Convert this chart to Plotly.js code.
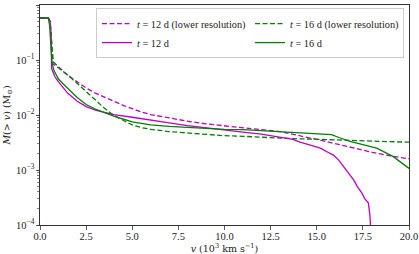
<!DOCTYPE html>
<html>
<head>
<meta charset="utf-8">
<script src="https://cdn.plot.ly/plotly-3.0.1.min.js"></script>
<style>html,body{margin:0;padding:0;background:#fff;}#chart{width:419px;height:254px;}</style>
</head>
<body>
<div id="chart"></div>
<script>
// t = 12 d (lower resolution)
const x12low = [0, 0.45, 0.55, 0.62, 0.7, 0.85, 1.0, 1.5, 2.0, 2.5, 3.0, 3.5, 4.0, 4.5, 5.0, 5.5, 6.0, 7.0, 8.0, 9.0, 10.0, 11.0, 12.0, 13.0, 14.0, 15.0, 15.5, 16.0, 17.0, 18.0, 19.0, 20.0];
const y12low = [0.58, 0.58, 0.5, 0.25, 0.085, 0.078, 0.072, 0.053, 0.040, 0.031, 0.025, 0.021, 0.0175, 0.015, 0.013, 0.0113, 0.0102, 0.0088, 0.0077, 0.0069, 0.0063, 0.0058, 0.0054, 0.0050, 0.0043, 0.0036, 0.0033, 0.0030, 0.0025, 0.0021, 0.0018, 0.0016];
// t = 16 d (lower resolution)
const x16low = [0, 0.45, 0.55, 0.62, 0.72, 1.0, 1.5, 2.0, 2.5, 3.0, 3.5, 4.0, 4.5, 5.0, 5.5, 6.0, 7.0, 8.0, 9.0, 10.0, 11.0, 12.0, 13.0, 14.0, 15.0, 16.0, 17.0, 18.0, 19.0, 20.0];
const y16low = [0.58, 0.58, 0.5, 0.25, 0.093, 0.075, 0.054, 0.038, 0.0267, 0.0188, 0.0132, 0.0098, 0.008, 0.0066, 0.0059, 0.0055, 0.0050, 0.0047, 0.0044, 0.0042, 0.0041, 0.0039, 0.0038, 0.0037, 0.0036, 0.0035, 0.0034, 0.0033, 0.0032, 0.0032];
// t = 12 d
const x12 = [0, 0.45, 0.55, 0.6, 0.63, 0.8, 1.0, 1.25, 1.5, 2.0, 2.5, 3.0, 3.5, 4.0, 5.0, 6.0, 7.0, 8.0, 9.0, 10.0, 11.0, 12.0, 13.0, 13.7, 14.1, 14.6, 15.2, 15.6, 15.9, 16.2, 16.45, 16.7, 17.0, 17.2, 17.45, 17.6, 17.8, 17.88, 17.93];
const y12 = [0.58, 0.58, 0.5, 0.3, 0.07, 0.05, 0.04, 0.031, 0.025, 0.018, 0.0142, 0.0122, 0.011, 0.0102, 0.0091, 0.0082, 0.0072, 0.0064, 0.0058, 0.0053, 0.0049, 0.0045, 0.0040, 0.0036, 0.0032, 0.0029, 0.0025, 0.0021, 0.00187, 0.0015, 0.00115, 0.00088, 0.00066, 0.0005, 0.00038, 0.0003, 0.00025, 0.00015, 0.00008];
// t = 16 d
const x16 = [0, 0.45, 0.52, 0.6, 0.65, 0.75, 0.85, 1.0, 1.25, 1.5, 2.0, 2.5, 3.0, 3.5, 4.0, 5.0, 6.0, 7.0, 8.0, 9.0, 10.0, 11.0, 12.0, 13.0, 14.0, 15.0, 15.5, 15.8, 16.2, 16.8, 17.5, 18.25, 19.15, 20.0];
const y16 = [0.58, 0.58, 0.43, 0.2, 0.09, 0.065, 0.055, 0.045, 0.037, 0.031, 0.021, 0.0155, 0.0128, 0.011, 0.0095, 0.0075, 0.0066, 0.0062, 0.0059, 0.0057, 0.0055, 0.0054, 0.0052, 0.0050, 0.0048, 0.0046, 0.0045, 0.0044, 0.0039, 0.0033, 0.0029, 0.0025, 0.00175, 0.00107];

const xTickVals = [0, 2.5, 5, 7.5, 10, 12.5, 15, 17.5, 20];
const xTickText = ['0.0', '2.5', '5.0', '7.5', '10.0', '12.5', '15.0', '17.5', '20.0'];
const yTickVals = [1e-4, 1e-3, 1e-2, 1e-1, 1];
const yTickText = ['10<sup>−4</sup>', '10<sup>−3</sup>', '10<sup>−2</sup>', '10<sup>−1</sup>', '10<sup>0</sup>'];

const MAG = '#bf00bf';
const GRN = '#008000';
const TICKFONT = '"Liberation Serif", serif';
const TEXTFONT = '"DejaVu Serif", serif';

const traces = [
  {x: x12low, y: y12low, mode: 'lines', name: '<i>t</i> = 12 d (lower resolution)', line: {color: MAG, width: 1.3, dash: '5px,2.5px'}},
  {x: x16low, y: y16low, mode: 'lines', name: '<i>t</i> = 16 d (lower resolution)', line: {color: GRN, width: 1.3, dash: '5px,2.5px'}},
  {x: x12, y: y12, mode: 'lines', name: '<i>t</i> = 12 d', line: {color: MAG, width: 1.3}},
  {x: x16, y: y16, mode: 'lines', name: '<i>t</i> = 16 d', line: {color: GRN, width: 1.3}}
];

const layout = {
  width: 419, height: 254,
  margin: {l: 40, r: 10, t: 5, b: 29},
  paper_bgcolor: '#fff', plot_bgcolor: '#fff',
  font: {family: TEXTFONT, size: 10, color: '#222'},
  showlegend: true,
  legend: {
    orientation: 'h', x: 0.9865, y: 0.986, xanchor: 'right', yanchor: 'top',
    bgcolor: 'rgba(255,255,255,0.8)', bordercolor: '#cccccc', borderwidth: 1,
    font: {family: TICKFONT, size: 10.3, color: '#222'},
    itemwidth: 30, entrywidthmode: 'pixels', entrywidth: 108, traceorder: 'normal',
    tracegroupgap: 0
  },
  xaxis: {
    range: [0, 20], tickvals: xTickVals, ticktext: xTickText,
    ticks: 'outside', ticklen: 3.5, tickwidth: 0.8, tickcolor: '#333',
    ticklabelstandoff: -2,
    showline: true, linecolor: '#333', linewidth: 1, mirror: true,
    showgrid: false, zeroline: false,
    tickfont: {family: TICKFONT, size: 10.5, color: '#222'},
    title: {text: '<i>v</i> (10<sup>3</sup> km s<sup>−1</sup>)', font: {family: TEXTFONT, size: 9.5, color: '#222'}, standoff: 4}
  },
  yaxis: {
    type: 'log', range: [-4, 0], tickvals: yTickVals, ticktext: yTickText,
    ticks: 'outside', ticklen: 3.5, tickwidth: 0.8, tickcolor: '#333',
    ticklabelstandoff: -1,
    minor: {ticks: 'outside', ticklen: 2, tickwidth: 0.6, tickcolor: '#333', dtick: 'D1', showgrid: false},
    showline: true, linecolor: '#333', linewidth: 1, mirror: true,
    showgrid: false, zeroline: false,
    tickfont: {family: TICKFONT, size: 10.5, color: '#222'},
    title: {text: '<i>M</i>(> <i>v</i>) (M<sub>⊙</sub>)', font: {family: TEXTFONT, size: 9.5, color: '#222'}, standoff: 3}
  }
};

Plotly.newPlot('chart', traces, layout, {displayModeBar: false, staticPlot: true});
</script>
</body>
</html>
